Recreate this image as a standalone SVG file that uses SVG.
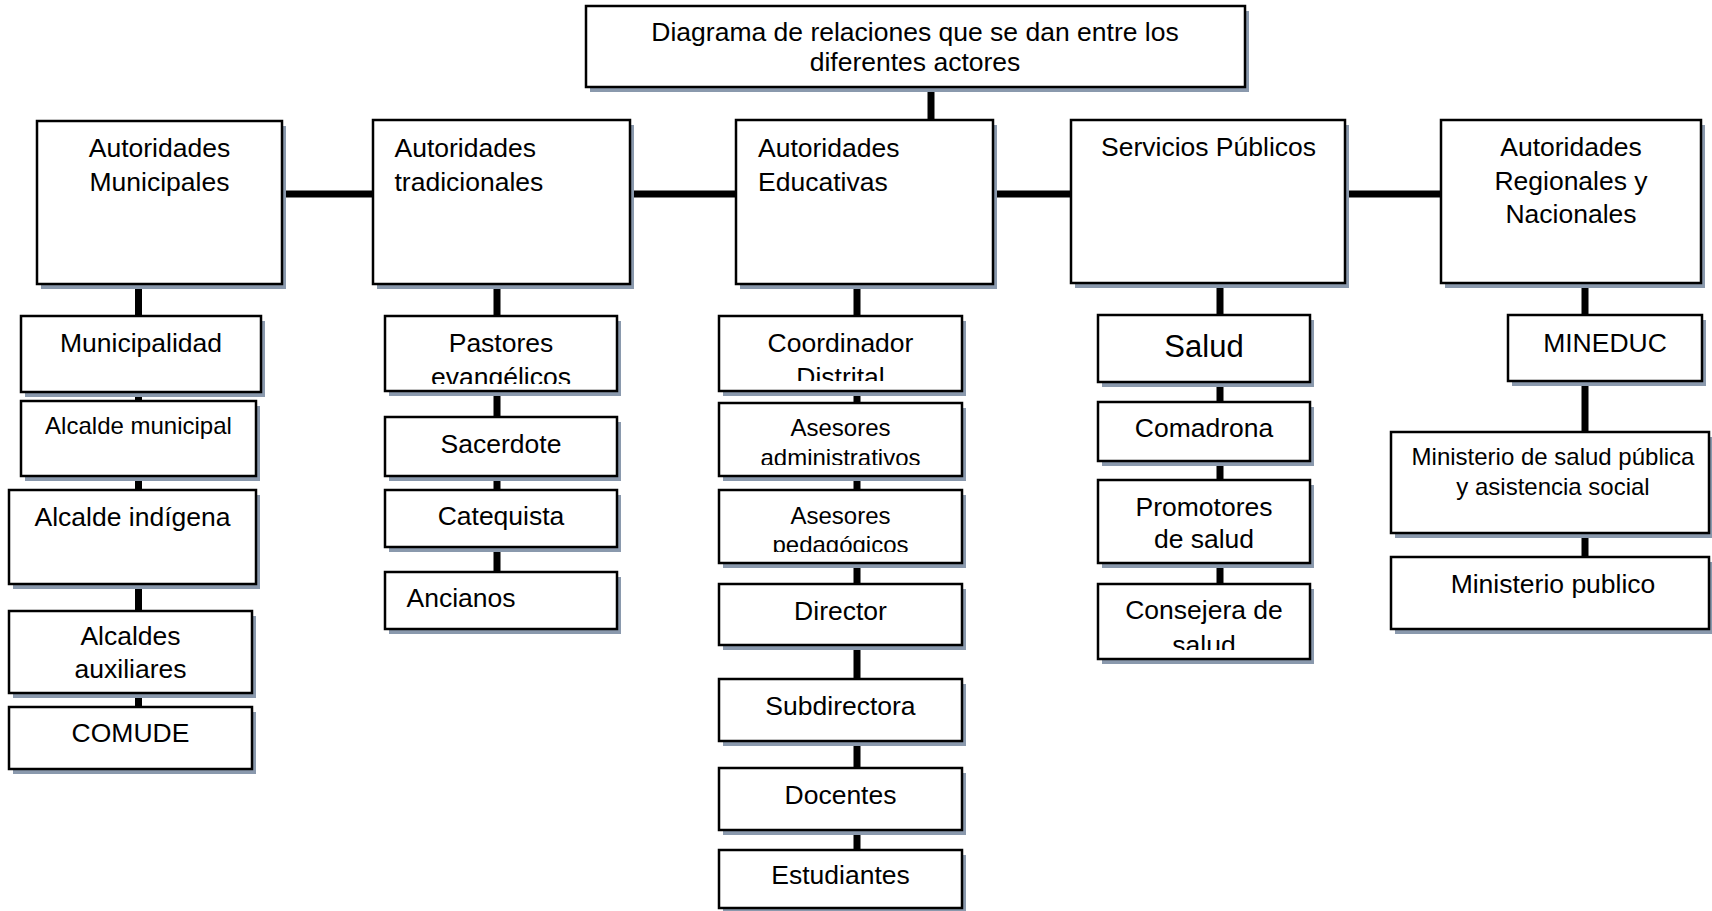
<svg xmlns="http://www.w3.org/2000/svg" width="1712" height="911" viewBox="0 0 1712 911">
<defs>
<style>
.sh{fill:#8a99ad}
.bx{fill:#fff;stroke:#000;stroke-width:2.5}
.cn{stroke:#000;stroke-width:7;fill:none}
text{font-family:"Liberation Sans",Arial,sans-serif;font-size:26.5px;fill:#000}
.c{text-anchor:middle}
.s{font-size:24px}
.l{font-size:31px}
</style>
<clipPath id="cpPas"><rect x="385" y="316" width="232" height="68"/></clipPath>
<clipPath id="cpCoo"><rect x="719" y="316" width="243" height="65"/></clipPath>
<clipPath id="cpAdm"><rect x="719" y="403" width="243" height="62"/></clipPath>
<clipPath id="cpPed"><rect x="719" y="490" width="243" height="62"/></clipPath>
<clipPath id="cpCon"><rect x="1098" y="584" width="212" height="66"/></clipPath>
</defs>
<rect width="1712" height="911" fill="#fff"/>
<g id="connectors">
<line class="cn" x1="931" y1="87" x2="931" y2="121"/>
<line class="cn" x1="282" y1="194" x2="1442" y2="194"/>
<line class="cn" x1="138.5" y1="284" x2="138.5" y2="707"/>
<line class="cn" x1="497" y1="284" x2="497" y2="572"/>
<line class="cn" x1="857" y1="284" x2="857" y2="850"/>
<line class="cn" x1="1220" y1="283" x2="1220" y2="584"/>
<line class="cn" x1="1585" y1="283" x2="1585" y2="557"/>
</g>
<g id="title"><rect class="sh" x="590" y="11" width="659" height="81"/><rect class="bx" x="586" y="6" width="659" height="81"/><text class="c" x="915" y="41">Diagrama de relaciones que se dan entre los</text><text class="c" x="915" y="71">diferentes actores</text></g>
<g id="aut-municipales"><rect class="sh" x="41" y="126" width="245" height="163"/><rect class="bx" x="37" y="121" width="245" height="163"/><text class="c" x="159.5" y="157">Autoridades</text><text class="c" x="159.5" y="191">Municipales</text></g>
<g id="aut-tradicionales"><rect class="sh" x="377" y="125" width="257" height="164"/><rect class="bx" x="373" y="120" width="257" height="164"/><text x="394.5" y="157">Autoridades</text><text x="394.5" y="191">tradicionales</text></g>
<g id="aut-educativas"><rect class="sh" x="740" y="125" width="257" height="164"/><rect class="bx" x="736" y="120" width="257" height="164"/><text x="758" y="157">Autoridades</text><text x="758" y="191">Educativas</text></g>
<g id="servicios"><rect class="sh" x="1075" y="125" width="274" height="163"/><rect class="bx" x="1071" y="120" width="274" height="163"/><text x="1101" y="156">Servicios Públicos</text></g>
<g id="aut-regionales"><rect class="sh" x="1445" y="125" width="260" height="163"/><rect class="bx" x="1441" y="120" width="260" height="163"/><text class="c" x="1571" y="156">Autoridades</text><text class="c" x="1571" y="190">Regionales y</text><text class="c" x="1571" y="223">Nacionales</text></g>
<g id="municipalidad"><rect class="sh" x="25" y="321" width="240" height="76"/><rect class="bx" x="21" y="316" width="240" height="76"/><text class="c" x="141" y="352">Municipalidad</text></g>
<g id="alcalde-municipal"><rect class="sh" x="25" y="406" width="235" height="75"/><rect class="bx" x="21" y="401" width="235" height="75"/><text class="c s" x="138.5" y="434">Alcalde municipal</text></g>
<g id="alcalde-indigena"><rect class="sh" x="13" y="495" width="247" height="94"/><rect class="bx" x="9" y="490" width="247" height="94"/><text class="c" x="132.5" y="526">Alcalde indígena</text></g>
<g id="alcaldes-auxiliares"><rect class="sh" x="13" y="616" width="243" height="82"/><rect class="bx" x="9" y="611" width="243" height="82"/><text class="c" x="130.5" y="645">Alcaldes</text><text class="c" x="130.5" y="678">auxiliares</text></g>
<g id="comude"><rect class="sh" x="13" y="712" width="243" height="62"/><rect class="bx" x="9" y="707" width="243" height="62"/><text class="c" x="130.5" y="742">COMUDE</text></g>
<g id="pastores"><rect class="sh" x="389" y="321" width="232" height="75"/><rect class="bx" x="385" y="316" width="232" height="75"/><g clip-path="url(#cpPas)"><text class="c" x="501" y="352">Pastores</text><text class="c" x="501" y="386">evangélicos</text></g></g>
<g id="sacerdote"><rect class="sh" x="389" y="422" width="232" height="59"/><rect class="bx" x="385" y="417" width="232" height="59"/><text class="c" x="501" y="453">Sacerdote</text></g>
<g id="catequista"><rect class="sh" x="389" y="495" width="232" height="57"/><rect class="bx" x="385" y="490" width="232" height="57"/><text class="c" x="501" y="525">Catequista</text></g>
<g id="ancianos"><rect class="sh" x="389" y="577" width="232" height="57"/><rect class="bx" x="385" y="572" width="232" height="57"/><text x="406.5" y="607">Ancianos</text></g>
<g id="coordinador"><rect class="sh" x="723" y="321" width="243" height="75"/><rect class="bx" x="719" y="316" width="243" height="75"/><g clip-path="url(#cpCoo)"><text class="c" x="840.5" y="352">Coordinador</text><text class="c" x="840.5" y="386">Distrital</text></g></g>
<g id="asesores-admin"><rect class="sh" x="723" y="408" width="243" height="73"/><rect class="bx" x="719" y="403" width="243" height="73"/><g clip-path="url(#cpAdm)"><text class="c s" x="840.5" y="436">Asesores</text><text class="c s" x="840.5" y="466">administrativos</text></g></g>
<g id="asesores-ped"><rect class="sh" x="723" y="495" width="243" height="73"/><rect class="bx" x="719" y="490" width="243" height="73"/><g clip-path="url(#cpPed)"><text class="c s" x="840.5" y="523.5">Asesores</text><text class="c s" x="840.5" y="553">pedagógicos</text></g></g>
<g id="director"><rect class="sh" x="723" y="589" width="243" height="61"/><rect class="bx" x="719" y="584" width="243" height="61"/><text class="c" x="840.5" y="620">Director</text></g>
<g id="subdirectora"><rect class="sh" x="723" y="684" width="243" height="62"/><rect class="bx" x="719" y="679" width="243" height="62"/><text class="c" x="840.5" y="715">Subdirectora</text></g>
<g id="docentes"><rect class="sh" x="723" y="773" width="243" height="62"/><rect class="bx" x="719" y="768" width="243" height="62"/><text class="c" x="840.5" y="804">Docentes</text></g>
<g id="estudiantes"><rect class="sh" x="723" y="855" width="243" height="58"/><rect class="bx" x="719" y="850" width="243" height="58"/><text class="c" x="840.5" y="884">Estudiantes</text></g>
<g id="salud"><rect class="sh" x="1102" y="320" width="212" height="67"/><rect class="bx" x="1098" y="315" width="212" height="67"/><text class="c l" x="1204" y="356.5">Salud</text></g>
<g id="comadrona"><rect class="sh" x="1102" y="407" width="212" height="59"/><rect class="bx" x="1098" y="402" width="212" height="59"/><text class="c" x="1204" y="437">Comadrona</text></g>
<g id="promotores"><rect class="sh" x="1102" y="485" width="212" height="83"/><rect class="bx" x="1098" y="480" width="212" height="83"/><text class="c" x="1204" y="516">Promotores</text><text class="c" x="1204" y="548">de salud</text></g>
<g id="consejera"><rect class="sh" x="1102" y="589" width="212" height="75"/><rect class="bx" x="1098" y="584" width="212" height="75"/><g clip-path="url(#cpCon)"><text class="c" x="1204" y="619">Consejera de</text><text class="c" x="1204" y="654">salud</text></g></g>
<g id="mineduc"><rect class="sh" x="1512" y="320" width="194" height="66"/><rect class="bx" x="1508" y="315" width="194" height="66"/><text class="c" x="1605" y="352">MINEDUC</text></g>
<g id="ministerio-salud"><rect class="sh" x="1395" y="437" width="318" height="101"/><rect class="bx" x="1391" y="432" width="318" height="101"/><text class="c s" x="1553" y="465">Ministerio de salud pública</text><text class="c s" x="1553" y="495">y asistencia social</text></g>
<g id="ministerio-publico"><rect class="sh" x="1395" y="562" width="318" height="72"/><rect class="bx" x="1391" y="557" width="318" height="72"/><text class="c" x="1553" y="593">Ministerio publico</text></g>
</svg>
